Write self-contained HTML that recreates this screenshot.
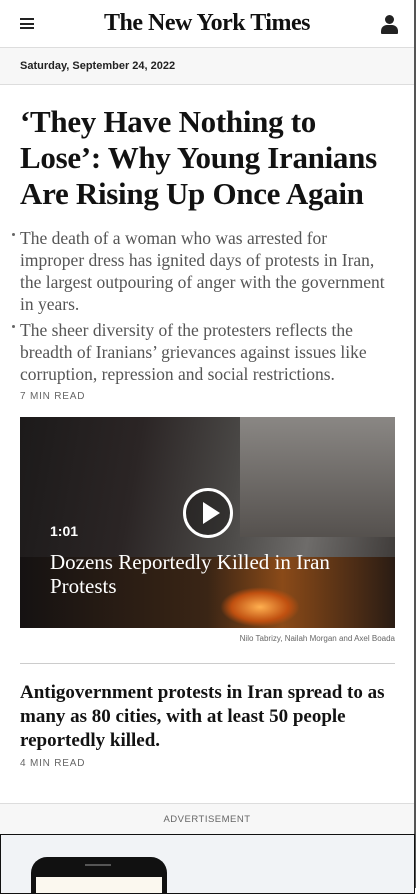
<!DOCTYPE html>
<html><head><meta charset="utf-8"><style>
*{margin:0;padding:0;box-sizing:border-box}
body{width:416px;height:888px;overflow:hidden;background:#fff;font-family:"Liberation Sans",sans-serif;position:relative}
.abs{position:absolute}
.serif{font-family:"Liberation Serif",serif}
.nw{white-space:nowrap}
</style></head><body>
<div class="abs" style="left:414px;top:0;width:2px;height:888px;background:#555"></div>
<header class="abs" style="left:0;top:0;width:414px;height:48px;border-bottom:1px solid #ddd">
 <div class="abs" style="left:20px;top:18px;width:14px;height:11px">
  <div style="height:2px;background:#222;margin-bottom:2.5px"></div><div style="height:2px;background:#222;margin-bottom:2.5px"></div><div style="height:2px;background:#222"></div></div>
 <div class="abs serif" style="left:0;width:414px;top:10px;text-align:center;font-size:24px;font-weight:bold;color:#111;letter-spacing:-0.5px">The New York Times</div>
 <div class="abs" style="left:381px;top:15px;width:17px;height:20px">
  <div style="position:absolute;left:4px;top:0;width:9px;height:9px;border-radius:50%;background:#222"></div>
  <div style="position:absolute;left:0;top:10px;width:17px;height:9px;border-radius:6px 6px 1px 1px;background:#222"></div></div>
</header>
<div class="abs" style="left:0;top:48px;width:414px;height:37px;background:#f7f7f7;border-bottom:1px solid #ddd;font-size:11px;font-weight:bold;color:#222;padding:12px 0 0 20px">Saturday, September 24, 2022</div>
<h1 class="abs serif nw" style="left:20px;top:104px;font-size:31px;line-height:36px;font-weight:bold;color:#121212;letter-spacing:-0.3px">‘They Have Nothing to<br>Lose’: Why Young Iranians<br>Are Rising Up Once Again</h1>
<div class="abs serif nw" style="left:20px;top:227px;font-size:17.5px;line-height:22px;color:#555">The death of a woman who was arrested for<br>improper dress has ignited days of protests in Iran,<br>the largest outpouring of anger with the government<br>in years.</div>
<div class="abs" style="left:12px;top:233px;width:3px;height:3px;background:#666;border-radius:50%"></div>
<div class="abs serif nw" style="left:20px;top:319px;font-size:17.5px;line-height:22px;color:#555">The sheer diversity of the protesters reflects the<br>breadth of Iranians’ grievances against issues like<br>corruption, repression and social restrictions.</div>
<div class="abs" style="left:12px;top:325px;width:3px;height:3px;background:#666;border-radius:50%"></div>
<div class="abs" style="left:20px;top:391px;font-size:10px;letter-spacing:0.8px;color:#666">7 MIN READ</div>
<div class="abs" style="left:20px;top:417px;width:375px;height:211px;overflow:hidden;background:linear-gradient(100deg,#1c1a1a 0%,#2b2525 30%,#4a4846 55%,#6e6c6a 75%,#3a3634 100%)">
 <div class="abs" style="left:220px;top:0;width:155px;height:120px;background:linear-gradient(180deg,#8a8784,#55514e)"></div>
 <div class="abs" style="left:0;top:140px;width:375px;height:71px;background:linear-gradient(90deg,#151212,#3a2515 50%,#8a4a18 70%,#2a1c14)"></div>
 <div class="abs" style="left:200px;top:170px;width:80px;height:40px;background:radial-gradient(#ffb050,#c05010 50%,transparent 70%)"></div>
 <div class="abs" style="left:163px;top:71px;width:50px;height:50px;border:3px solid #fff;border-radius:50%;background:rgba(0,0,0,0.3)">
  <div style="position:absolute;left:17px;top:11px;border-left:17px solid #fff;border-top:11px solid transparent;border-bottom:11px solid transparent"></div></div>
 <div class="abs" style="left:30px;top:106px;font-size:14px;font-weight:bold;color:#fff">1:01</div>
 <div class="abs serif" style="left:30px;top:133px;width:320px;font-size:21px;line-height:24px;color:#fff">Dozens Reportedly Killed in Iran Protests</div>
</div>
<div class="abs" style="left:20px;top:634px;width:375px;text-align:right;font-size:8px;color:#666">Nilo Tabrizy, Nailah Morgan and Axel Boada</div>
<div class="abs" style="left:20px;top:663px;width:375px;height:1px;background:#ccc"></div>
<h2 class="abs serif" style="left:20px;top:681px;width:385px;font-size:19px;line-height:24px;font-weight:bold;color:#121212">Antigovernment protests in Iran spread to as many as 80 cities, with at least 50 people reportedly killed.</h2>
<div class="abs" style="left:20px;top:758px;font-size:10px;letter-spacing:0.8px;color:#666">4 MIN READ</div>
<div class="abs" style="left:0;top:803px;width:414px;height:31px;background:#f7f7f7;border-top:1px solid #ddd;text-align:center;font-size:9.5px;letter-spacing:0.5px;color:#666;padding-top:10px">ADVERTISEMENT</div>
<div class="abs" style="left:0;top:834px;width:415px;height:60px;overflow:hidden;background:#f1f3f6;border:1.5px solid #111">
 <div class="abs" style="left:30px;top:22px;width:136px;height:50px;background:#111;border-radius:16px 16px 0 0">
  <div class="abs" style="left:5px;top:20px;width:126px;height:40px;background:#fbf8ef"></div>
  <div class="abs" style="left:54px;top:7px;width:26px;height:2px;background:#555"></div></div>
</div>
</body></html>
